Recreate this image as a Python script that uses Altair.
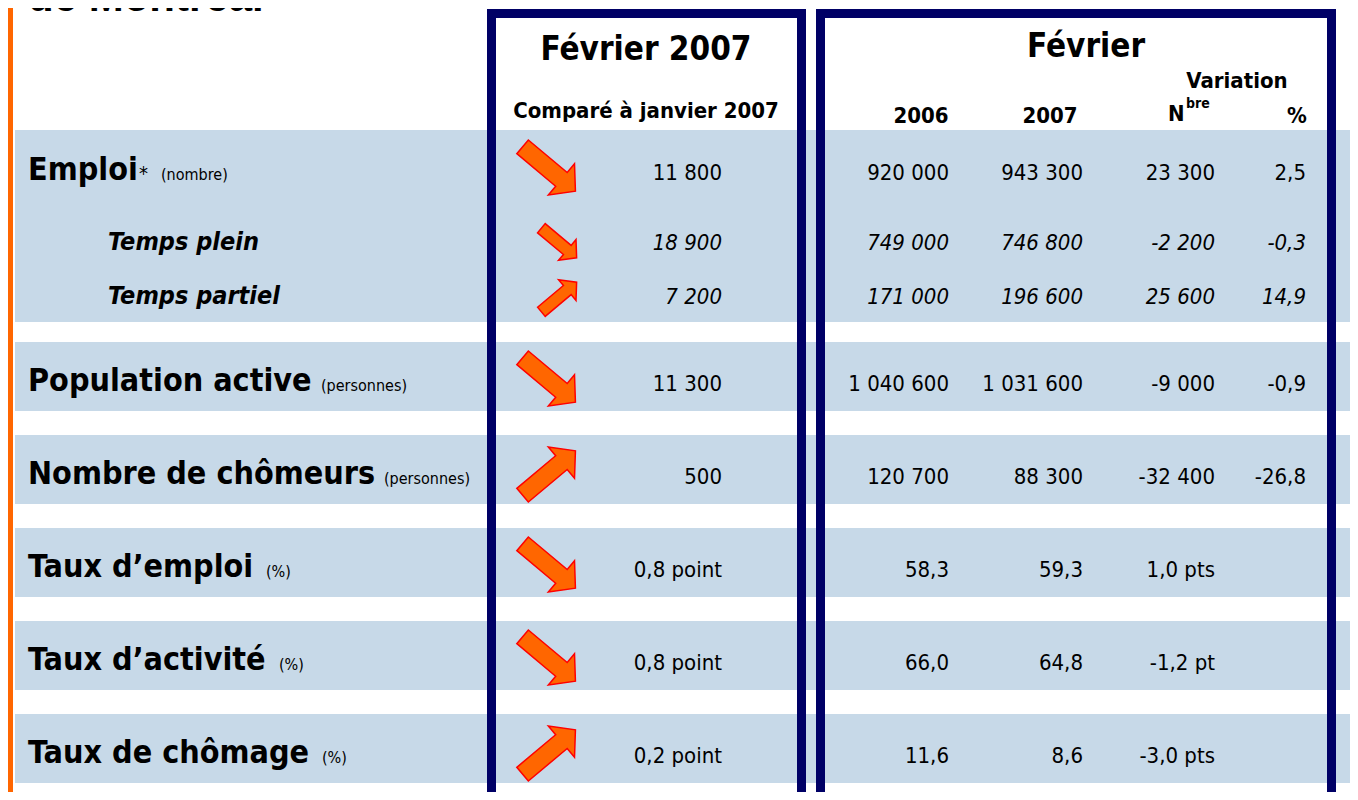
import altair as alt
import pandas as pd

# ---------------- data ----------------
labels = ["Emploi", "Temps plein", "Temps partiel", "Population active",
          "Nombre de chômeurs", "Taux d’emploi", "Taux d’activité", "Taux de chômage"]
units = ["(nombre)", "", "", "(personnes)", "(personnes)", "(%)", "(%)", "(%)"]
is_sub = [False, True, True, False, False, False, False, False]
direction = ["down", "down", "up", "down", "up", "down", "down", "up"]
monthly_change = ["11 800", "18 900", "7 200", "11 300", "500",
                  "0,8 point", "0,8 point", "0,2 point"]
feb_2006 = ["920 000", "749 000", "171 000", "1 040 600", "120 700", "58,3", "66,0", "11,6"]
feb_2007 = ["943 300", "746 800", "196 600", "1 031 600", "88 300", "59,3", "64,8", "8,6"]
var_number = ["23 300", "-2 200", "25 600", "-9 000", "-32 400", "1,0 pts", "-1,2 pt", "-3,0 pts"]
var_percent = ["2,5", "-0,3", "14,9", "-0,9", "-26,8", "", "", ""]

title_text = "de Montréal"
header_left = ["Février 2007", "Comparé à janvier 2007"]
header_right = ["Février", "Variation", "2006", "2007", "%"]

# ---------------- layout ----------------
FONT = "DejaVu Sans Condensed, DejaVu Sans"
NAVY = "#000066"
BAND = "#C7D9E8"

group_baselines = [180, 250, 304]
single_tops = [342 + k * 93 for k in range(5)]
baselines = group_baselines + [t + 49 for t in single_tops]
bands = [(130, 322)] + [(t, t + 69) for t in single_tops]
unit_x = [161, None, None, 321, 384, 266, 279, 322]

rows = pd.DataFrame({
    "label": labels, "unit": units, "sub": is_sub, "dir": direction,
    "m": monthly_change, "a": feb_2006, "b": feb_2007, "n": var_number, "p": var_percent,
})
rows["y"] = baselines
rows["lx"] = [108 if s else 28 for s in is_sub]
rows["ux"] = unit_x
rows["ay"] = [b - (7 if s else 11) for b, s in zip(baselines, is_sub)]
rows["ax"] = [559 if s else 549 for s in is_sub]
rows["ang"] = [(40 if d == "down" else 320) for d in direction]
rows["sz"] = [2116 if s else 4761 for s in is_sub]

band_df = pd.DataFrame({"y0": [b[0] for b in bands], "y1": [b[1] for b in bands]})
band_df["x0"] = 15
band_df["x1"] = 1360

col_right = {"m": 722, "a": 949, "b": 1083, "n": 1215, "p": 1306}
vals = []
for key, xr in col_right.items():
    for i in range(len(labels)):
        vals.append({"t": rows.loc[i, key], "x": xr, "y": baselines[i], "sub": is_sub[i]})
vals = pd.DataFrame(vals)

hdr = pd.DataFrame({
    "t": header_left + header_right,
    "x": [646, 646, 1086, 1237, 921, 1050, 1297],
    "y": [60, 118, 57, 88, 123, 123, 123],
    "fs": [33, 22, 33, 22, 22, 22, 22],
})
nbre = pd.DataFrame({"t": ["N", "bre"], "x": [1168, 1186], "y": [121, 108], "fs": [22, 14]})

boxes = pd.DataFrame({"x0": [491.5, 820.5], "x1": [801.5, 1331.5], "y0": [13.5, 13.5], "y1": [840, 840]})
orange = pd.DataFrame({"x0": [8], "x1": [13], "y0": [0], "y1": [800]})
title_df = pd.DataFrame({"t": [title_text], "x": [28], "y": [11]})

XS = alt.Scale(domain=[8, 1350], nice=False, zero=False)
YS = alt.Scale(domain=[8, 792], nice=False, zero=False, reverse=True)


def X(f):
    return alt.X(f, scale=XS, axis=None)


def Y(f):
    return alt.Y(f, scale=YS, axis=None)


band_layer = alt.Chart(band_df).mark_rect(color=BAND, clip=True).encode(
    x=X("x0:Q"), x2="x1:Q", y=Y("y0:Q"), y2="y1:Q")
orange_layer = alt.Chart(orange).mark_rect(color="#FF6600", clip=True).encode(
    x=X("x0:Q"), x2="x1:Q", y=Y("y0:Q"), y2="y1:Q")
box_layer = alt.Chart(boxes).mark_rect(filled=False, stroke=NAVY, strokeWidth=9, clip=True).encode(
    x=X("x0:Q"), x2="x1:Q", y=Y("y0:Q"), y2="y1:Q")

title_layer = alt.Chart(title_df).mark_text(
    font="Liberation Sans", fontWeight="bold", fontSize=42, align="left", baseline="alphabetic",
    color="black").encode(x=X("x:Q"), y=Y("y:Q"), text="t:N")

label_main = alt.Chart(rows).transform_filter("!datum.sub").mark_text(
    font=FONT, fontWeight="bold", fontSize=32, align="left", baseline="alphabetic", color="black"
).encode(x=X("lx:Q"), y=Y("y:Q"), text="label:N")
label_sub = alt.Chart(rows).transform_filter("datum.sub").mark_text(
    font=FONT, fontWeight="bold", fontStyle="italic", fontSize=25, align="left",
    baseline="alphabetic", color="black"
).encode(x=X("lx:Q"), y=Y("y:Q"), text="label:N")
unit_layer = alt.Chart(rows).transform_filter("datum.unit != ''").mark_text(
    font=FONT, fontSize=16, align="left", baseline="alphabetic", color="black"
).encode(x=X("ux:Q"), y=Y("y:Q"), text="unit:N")
star = alt.Chart(rows).transform_filter("datum.label == 'Emploi'").mark_text(
    font=FONT, fontSize=20, align="left", baseline="alphabetic", color="black", text="*", dx=111
).encode(x=X("lx:Q"), y=Y("y:Q"))

val_main = alt.Chart(vals).transform_filter("!datum.sub").mark_text(
    font=FONT, fontSize=22, align="right", baseline="alphabetic", color="black"
).encode(x=X("x:Q"), y=Y("y:Q"), text="t:N")
val_sub = alt.Chart(vals).transform_filter("datum.sub").mark_text(
    font=FONT, fontSize=22, fontStyle="italic", align="right", baseline="alphabetic", color="black"
).encode(x=X("x:Q"), y=Y("y:Q"), text="t:N")

hdr_layer = alt.Chart(hdr).mark_text(
    font=FONT, fontWeight="bold", align="center", baseline="alphabetic", color="black"
).encode(x=X("x:Q"), y=Y("y:Q"), text="t:N", size=alt.Size("fs:Q", scale=None))
nbre_layer = alt.Chart(nbre).mark_text(
    font=FONT, fontWeight="bold", align="left", baseline="alphabetic", color="black"
).encode(x=X("x:Q"), y=Y("y:Q"), text="t:N", size=alt.Size("fs:Q", scale=None))

ARROW = "M -1 -0.26 L 0.47 -0.26 L 0.47 -0.59 L 1 0 L 0.47 0.59 L 0.47 0.26 L -1 0.26 Z"
arrow_layer = alt.Chart(rows).mark_point(
    shape=ARROW, filled=True, fill="#FF6600", stroke="#FF0000", strokeWidth=1.5, opacity=1
).encode(x=X("ax:Q"), y=Y("ay:Q"),
         angle=alt.Angle("ang:Q", scale=None),
         size=alt.Size("sz:Q", scale=None))

chart = alt.layer(
    band_layer, orange_layer, title_layer,
    label_main, label_sub, unit_layer, star,
    val_main, val_sub, hdr_layer, nbre_layer, arrow_layer, box_layer,
).properties(width=1342, height=784, padding=0, autosize="none").configure_view(stroke=None)

chart.save("out.html", embed_options={"renderer": "svg", "actions": False})
